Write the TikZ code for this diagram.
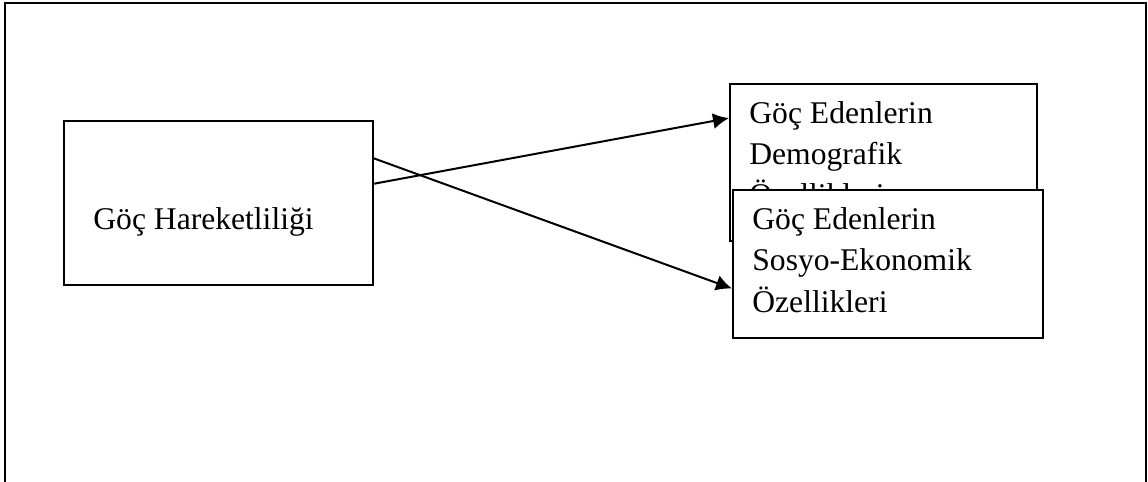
\documentclass[tikz,border=0pt]{standalone}
\usepackage{fontspec}
\setmainfont{Liberation Serif}
\usetikzlibrary{arrows.meta}
\begin{document}
\begin{tikzpicture}[x=0.5pt,y=-0.5pt,
        box/.style={draw, line width=0.85pt, fill=white, inner sep=0pt, anchor=north west},
        lbl/.style={anchor=base west, inner sep=0pt, font=\fontsize{15.8}{19}\selectfont},
        arr/.style={line width=1pt, -{Latex[length=8pt,width=8pt]}}]
        \useasboundingbox (0,0) rectangle (1148,482);
        \begin{scope}
            % outer frame, open at the bottom
            \draw[line width=1pt] (5,500) -- (5,3) -- (1146,3) -- (1146,500);

            \node[box, minimum width=154.5pt, minimum height=82pt] (hareket) at (63,120) {};
            \node[lbl] (hareketLbl) at (93,229) {Göç Hareketliliği};

            \node[box, minimum width=153.5pt, minimum height=78.5pt] (demo) at (729,83) {};
            \node[lbl] (demoA) at (749,123) {Göç Edenlerin};
            \node[lbl] (demoB) at (749,164) {Demografik};
            \node[lbl] (demoC) at (749,205) {Özellikleri};

            \node[box, minimum width=155pt, minimum height=74pt] (sosyo) at (732,189) {};
            \node[lbl] (sosyoA) at (752,229) {Göç Edenlerin};
            \node[lbl] (sosyoB) at (752,270.5) {Sosyo-Ekonomik};
            \node[lbl] (sosyoC) at (752,312) {Özellikleri};

            \draw[arr] (hareket.7.7) -- (demo.164.5);
            \draw[arr] (hareket.16.9) -- (sosyo.189.2);
        \end{scope}
    \end{tikzpicture}
\end{document}
